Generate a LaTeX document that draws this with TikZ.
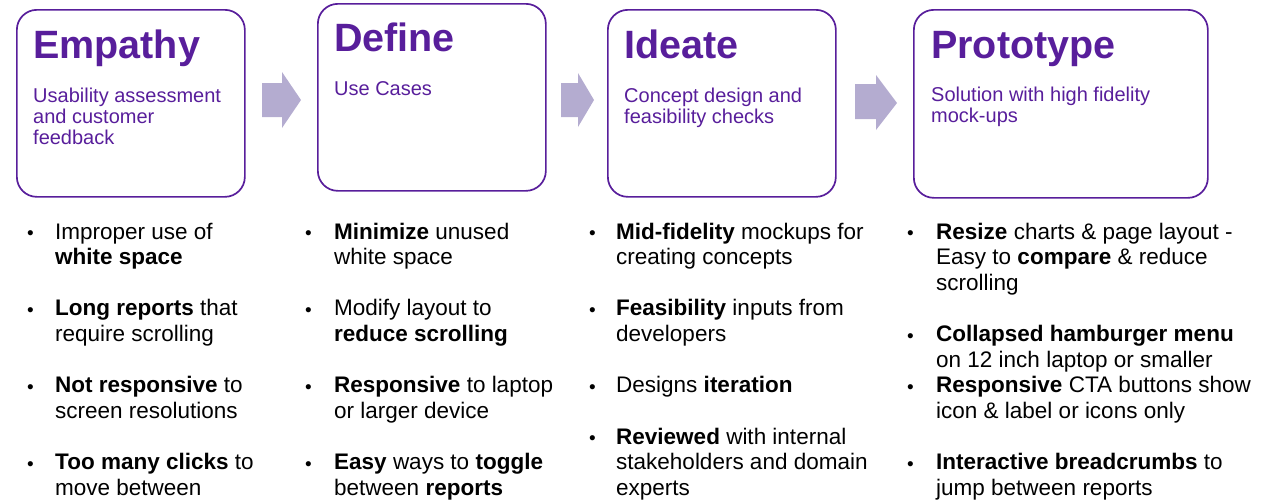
\documentclass[tikz,border=0pt]{standalone}
\usepackage{fontspec}
\setmainfont{Liberation Sans}
\definecolor{pur}{RGB}{88,30,155}
\definecolor{arrfill}{RGB}{180,172,208}
\newcommand{\tline}[4]{\node[bodytxt] (#1) at (#2,{239+25.65*#3}) {#4};}
\newcommand{\bdot}[3]{\node[bodytxt, font=\fontsize{19}{20}\selectfont] (#1) at (#2,{239.5+25.65*#3}) {\textbullet};}
\begin{document}
\begin{tikzpicture}[x=1pt,y=-1pt,
  stagebox/.style={draw=pur, line width=1.7pt, rounded corners=20pt, anchor=north west, inner sep=0pt},
  titletxt/.style={anchor=base west, inner sep=0pt, text=pur, font=\fontsize{39.5}{40}\selectfont\bfseries},
  subtxt/.style={anchor=base west, inner sep=0pt, text=pur, font=\fontsize{20}{21}\selectfont},
  bodytxt/.style={anchor=base west, inner sep=0pt, font=\fontsize{22.5}{25}\selectfont},
  blockarrow/.style={fill=arrfill, draw=none}]
\useasboundingbox (0,0) rectangle (1280,499);
% boxes
\node[stagebox, minimum width=228pt, minimum height=187pt] (b1) at (16,9) {};
\node[stagebox, minimum width=228pt, minimum height=187pt] (b2) at (317,3) {};
\node[stagebox, minimum width=228pt, minimum height=187pt] (b3) at (607,9) {};
\node[stagebox, minimum width=294pt, minimum height=188pt] (b4) at (913,9) {};
% arrows
\fill[blockarrow] (262,83) -- (282,83) -- (282,72) -- (301,100) -- (282,128) -- (282,117) -- (262,117) -- cycle;
\fill[blockarrow] (561,83) -- (578,83) -- (578,73) -- (594,100) -- (578,127) -- (578,117) -- (561,117) -- cycle;
\fill[blockarrow] (855,84) -- (876,84) -- (876,75) -- (897,103) -- (876,130) -- (876,119) -- (855,119) -- cycle;
% titles
\node[titletxt] (t1) at (33,58) {Empathy};
\node[titletxt] (t2) at (334,51) {Define};
\node[titletxt] (t3) at (624,58) {Ideate};
\node[titletxt] (t4) at (931,58) {Prototype};
% subtitles
\node[subtxt] (s1a) at (33,102) {Usability assessment};
\node[subtxt] (s1b) at (33,123) {and customer};
\node[subtxt] (s1c) at (33,144) {feedback};
\node[subtxt] (s2a) at (334,95) {Use Cases};
\node[subtxt] (s3a) at (624,102) {Concept design and};
\node[subtxt] (s3b) at (624,123) {feasibility checks};
\node[subtxt] (s4a) at (931,101) {Solution with high fidelity};
\node[subtxt] (s4b) at (931,122) {mock-ups};
% column 1
\bdot{d1a}{27}{0}\tline{l1a}{55}{0}{Improper use of}
\tline{l1b}{55}{1}{\textbf{white space}}
\bdot{d1b}{27}{3}\tline{l1c}{55}{3}{\textbf{Long reports} that}
\tline{l1d}{55}{4}{require scrolling}
\bdot{d1c}{27}{6}\tline{l1e}{55}{6}{\textbf{Not responsive} to}
\tline{l1f}{55}{7}{screen resolutions}
\bdot{d1d}{27}{9}\tline{l1g}{55}{9}{\textbf{Too many clicks} to}
\tline{l1h}{55}{10}{move between}
% column 2
\bdot{d2a}{305}{0}\tline{l2a}{334}{0}{\textbf{Minimize} unused}
\tline{l2b}{334}{1}{white space}
\bdot{d2b}{305}{3}\tline{l2c}{334}{3}{Modify layout to}
\tline{l2d}{334}{4}{\textbf{reduce scrolling}}
\bdot{d2c}{305}{6}\tline{l2e}{334}{6}{\textbf{Responsive} to laptop}
\tline{l2f}{334}{7}{or larger device}
\bdot{d2d}{305}{9}\tline{l2g}{334}{9}{\textbf{Easy} ways to \textbf{toggle}}
\tline{l2h}{334}{10}{between \textbf{reports}}
% column 3
\bdot{d3a}{589}{0}\tline{l3a}{616}{0}{\textbf{Mid-fidelity} mockups for}
\tline{l3b}{616}{1}{creating concepts}
\bdot{d3b}{589}{3}\tline{l3c}{616}{3}{\textbf{Feasibility} inputs from}
\tline{l3d}{616}{4}{developers}
\bdot{d3c}{589}{6}\tline{l3e}{616}{6}{Designs \textbf{iteration}}
\bdot{d3d}{589}{8}\tline{l3f}{616}{8}{\textbf{Reviewed} with internal}
\tline{l3g}{616}{9}{stakeholders and domain}
\tline{l3h}{616}{10}{experts}
% column 4
\bdot{d4a}{907}{0}\tline{l4a}{936}{0}{\textbf{Resize} charts \& page layout -}
\tline{l4b}{936}{1}{Easy to \textbf{compare} \& reduce}
\tline{l4c}{936}{2}{scrolling}
\bdot{d4b}{907}{4}\tline{l4d}{936}{4}{\textbf{Collapsed hamburger menu}}
\tline{l4e}{936}{5}{on 12 inch laptop or smaller}
\bdot{d4c}{907}{6}\tline{l4f}{936}{6}{\textbf{Responsive} CTA buttons show}
\tline{l4g}{936}{7}{icon \& label or icons only}
\bdot{d4d}{907}{9}\tline{l4h}{936}{9}{\textbf{Interactive breadcrumbs} to}
\tline{l4i}{936}{10}{jump between reports}
\end{tikzpicture}
\end{document}
